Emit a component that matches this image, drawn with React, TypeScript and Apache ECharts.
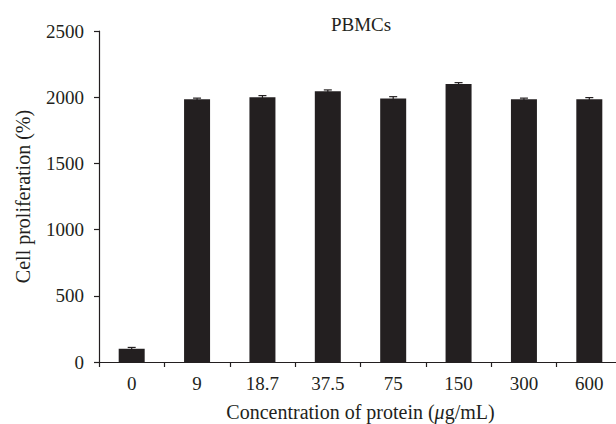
import React, { useEffect, useRef } from "react";
import * as echarts from "echarts";

const categories = ["0", "9", "18.7", "37.5", "75", "150", "300", "600"];
const values = [100, 1985, 2000, 2045, 1990, 2100, 1985, 1985];
const errors = [10, 8, 12, 10, 14, 10, 8, 12];
const yTicks = { min: 0, max: 2500, interval: 500 };

const INK = "#231f20";
const FONT = "'Liberation Serif', 'DejaVu Serif', serif";

export default function App() {
  const ref = useRef<HTMLDivElement>(null);
  useEffect(() => {
    if (!ref.current) return;
    const chart = echarts.init(ref.current, undefined, { renderer: "svg" });
    const errData = values.map((v, i) => [i, v - errors[i], v + errors[i]]);
    chart.setOption({
      animation: false,
      textStyle: { fontFamily: FONT, color: INK },
      grid: {
        left: 99,
        top: 31,
        width: 523,
        height: 331,
        containLabel: false,
        outerBoundsMode: "none",
      },
      graphic: [
        {
          type: "text",
          x: 361,
          y: 15,
          style: { text: "PBMCs", font: `19px ${FONT}`, fill: INK, align: "center", verticalAlign: "top" },
        },
      ],
      xAxis: {
        type: "category",
        data: categories,
        name: "Concentration of protein ({i|μ}g/mL)",
        nameLocation: "middle",
        nameGap: 40,
        nameTextStyle: {
          fontFamily: FONT,
          fontSize: 20,
          color: INK,
          rich: { i: { fontFamily: FONT, fontSize: 20, fontStyle: "italic", color: INK } },
        },
        axisLine: { lineStyle: { color: INK, width: 1.2 } },
        axisTick: { show: true, length: 5, inside: false, lineStyle: { color: INK, width: 1.2 } },
        axisLabel: { fontFamily: FONT, fontSize: 19, color: INK, margin: 12 },
        splitLine: { show: false },
      },
      yAxis: {
        type: "value",
        min: yTicks.min,
        max: yTicks.max,
        interval: yTicks.interval,
        name: "Cell proliferation (%)",
        nameLocation: "middle",
        nameGap: 66,
        nameTextStyle: { fontFamily: FONT, fontSize: 20, color: INK },
        axisLine: { show: true, lineStyle: { color: INK, width: 1.2 } },
        axisTick: { show: true, length: 5, inside: false, lineStyle: { color: INK, width: 1.2 } },
        axisLabel: {
          fontFamily: FONT,
          fontSize: 19,
          color: INK,
          margin: 15,
          formatter: (v: number) => String(v),
        },
        splitLine: { show: false },
      },
      series: [
        {
          type: "bar",
          data: values,
          barWidth: 26,
          itemStyle: { color: INK },
        },
        {
          type: "custom",
          data: errData,
          z: 5,
          renderItem: (params: any, api: any) => {
            const x = api.coord([api.value(0), 0])[0];
            const lo = api.coord([api.value(0), api.value(1)])[1];
            const hi = api.coord([api.value(0), api.value(2)])[1];
            const half = 4;
            const style = { stroke: INK, lineWidth: 1.2 };
            return {
              type: "group",
              children: [
                { type: "line", shape: { x1: x, y1: lo, x2: x, y2: hi }, style },
                { type: "line", shape: { x1: x - half, y1: hi, x2: x + half, y2: hi }, style },
              ],
            };
          },
        },
      ],
    });
    return () => chart.dispose();
  }, []);
  return (
    <div
      ref={ref}
      style={{ position: "fixed", left: 0, top: 0, width: 616, height: 424, background: "#fff" }}
    />
  );
}
